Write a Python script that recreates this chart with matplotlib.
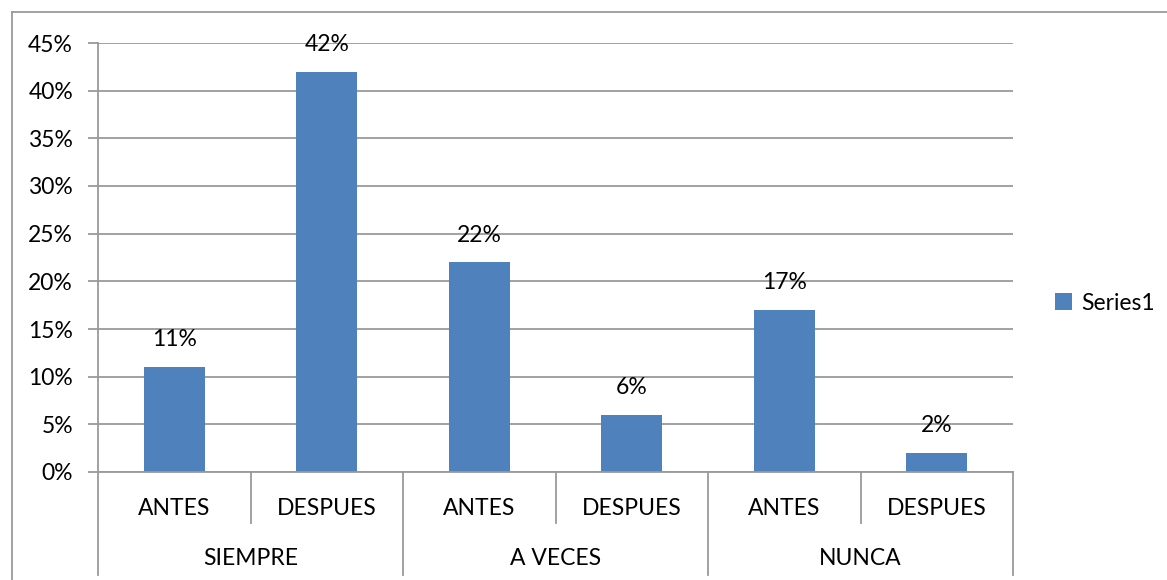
import numpy as np
import matplotlib.pyplot as plt
from matplotlib.lines import Line2D
from matplotlib.ticker import MultipleLocator, FuncFormatter

groups = ['SIEMPRE', 'A VECES', 'NUNCA']
subcats = ['ANTES', 'DESPUES']
values = [11, 42, 22, 6, 17, 2]
series_name = 'Series1'

BAR_COLOR = '#4F81BD'
GRID_COLOR = '#9A9A9A'
FONT = ['Lato', 'DejaVu Sans']
FS = 16.5

plt.rcParams['font.family'] = FONT

fig = plt.figure(figsize=(11.67, 5.80), dpi=100)
W, H = 1167, 580
ax = fig.add_axes([98 / W, 1 - 472 / H, (1013 - 98) / W, (472 - 43) / H])

x = np.arange(len(values))
ax.bar(x, values, 0.4, color=BAR_COLOR, label=series_name, zorder=3)
for xi, v in zip(x, values):
    ax.annotate('%d%%' % v, (xi, v), xytext=(0, 12), textcoords='offset points',
                ha='center', va='bottom', fontsize=FS, color='k')

ax.set_xlim(-0.5, len(values) - 0.5)
ax.set_ylim(0, 45)
ax.yaxis.set_major_locator(MultipleLocator(5))
ax.yaxis.set_major_formatter(FuncFormatter(lambda v, p: '%d%%' % v))
ax.grid(axis='y', color=GRID_COLOR, linewidth=1.3, zorder=0)
ax.set_xticks([])
ax.tick_params(axis='y', length=7, width=1.3, color=GRID_COLOR, labelsize=FS, pad=11)
for s in ['top', 'right', 'bottom']:
    ax.spines[s].set_visible(False)
ax.spines['left'].set_color(GRID_COLOR)
ax.spines['left'].set_linewidth(1.3)

# multi-level category axis
tr = ax.get_xaxis_transform()
ax.add_line(Line2D([-0.5, len(values) - 0.5], [0, 0], transform=tr, color=GRID_COLOR,
                   linewidth=1.3, clip_on=False, zorder=4))
for i in range(len(values) + 1):
    bottom = -0.24 if i % 2 == 0 else -0.119
    ax.add_line(Line2D([i - 0.5, i - 0.5], [0, bottom], transform=tr, color=GRID_COLOR,
                       linewidth=1.3, clip_on=False))
for i in range(len(values)):
    ax.text(i, -0.085, subcats[i % 2], transform=tr, ha='center', va='center', fontsize=FS)
for g, name in enumerate(groups):
    ax.text(2 * g + 0.5, -0.202, name, transform=tr, ha='center', va='center', fontsize=FS)

ax.legend(loc='center left', bbox_to_anchor=(1034 / W, 1 - 303 / H), bbox_transform=fig.transFigure,
          frameon=False, fontsize=FS, handlelength=0.75, handleheight=0.75, handletextpad=0.4)

# outer chart border (only left and top visible)
fig.add_artist(Line2D([11.5 / W, 11.5 / W], [0, 1 - 12 / H], transform=fig.transFigure,
                      color=GRID_COLOR, linewidth=1.3))
fig.add_artist(Line2D([11.5 / W, 1], [1 - 12 / H, 1 - 12 / H], transform=fig.transFigure,
                      color=GRID_COLOR, linewidth=1.3))

fig.savefig('out.png', dpi=100)
